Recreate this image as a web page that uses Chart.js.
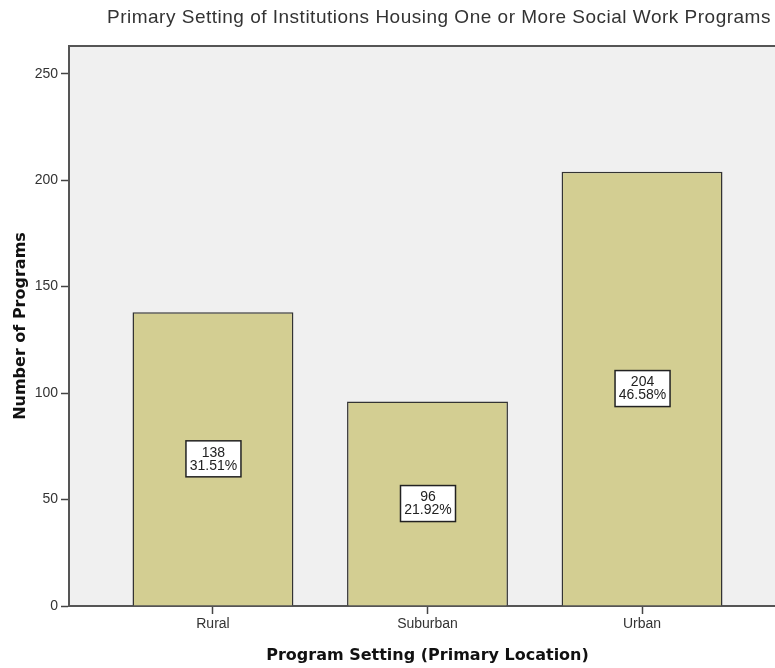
<!DOCTYPE html>
<html>
<head>
<meta charset="utf-8">
<script src="https://cdn.jsdelivr.net/npm/chart.js@4"></script>
<style>
  html, body { margin: 0; padding: 0; background: #fff; overflow: hidden; }
  #wrap { position: relative; width: 790px; height: 668px; }
  #title {
    position: absolute; top: 6px; left: 107px; white-space: nowrap;
    font: 19px "Liberation Sans", Arial, sans-serif; line-height: 22px; color: #333;
    letter-spacing: 0.5px;
  }
</style>
</head>
<body>
<div id="wrap">
  <div id="title">Primary Setting of Institutions Housing One or More Social Work Programs</div>
  <canvas id="myChart" width="790" height="668"></canvas>
</div>
<script>
// data
const categories = ['Rural', 'Suburban', 'Urban'];
const counts = [138, 96, 204];
const yTicks = [0, 50, 100, 150, 200, 250];

const total = counts.reduce((a, b) => a + b, 0);

// grey plot panel and top frame line
const panel = {
  id: 'panel',
  beforeDraw(chart) {
    const {ctx, chartArea: a} = chart;
    ctx.save();
    ctx.fillStyle = '#f0f0f0';
    ctx.fillRect(a.left, a.top, a.right - a.left, a.bottom - a.top);
    ctx.strokeStyle = '#555';
    ctx.lineWidth = 2;
    ctx.beginPath();
    ctx.moveTo(a.left, a.top);
    ctx.lineTo(a.right, a.top);
    ctx.stroke();
    ctx.restore();
  }
};

// white boxes with count and percent in the middle of each bar
const boxLabels = {
  id: 'boxLabels',
  afterDatasetsDraw(chart) {
    const {ctx} = chart;
    const meta = chart.getDatasetMeta(0);
    ctx.save();
    ctx.font = '14px "Liberation Sans", Arial, sans-serif';
    ctx.textAlign = 'center';
    ctx.textBaseline = 'middle';
    meta.data.forEach((bar, i) => {
      const cy = (bar.y + bar.base) / 2;
      const pct = (counts[i] / total * 100).toFixed(2) + '%';
      ctx.fillStyle = '#fff';
      ctx.fillRect(bar.x - 27, cy - 18, 55, 36);
      ctx.strokeStyle = '#222';
      ctx.lineWidth = 1.5;
      ctx.strokeRect(bar.x - 27, cy - 18, 55, 36);
      ctx.fillStyle = '#222';
      ctx.fillText(String(counts[i]), bar.x + 0.5, cy - 6);
      ctx.fillText(pct, bar.x + 0.5, cy + 7);
    });
    ctx.restore();
  }
};

new Chart(document.getElementById('myChart'), {
  type: 'bar',
  data: {
    datasets: [{
      data: counts.map((v, i) => ({x: i + 1, y: v})),
      backgroundColor: '#d3ce92',
      borderColor: '#333',
      borderWidth: 1.5,
      barPercentage: 0.75,
      categoryPercentage: 1
    }]
  },
  options: {
    responsive: false,
    animation: false,
    layout: {padding: {top: 46, right: 4, left: 0, bottom: 0}},
    plugins: {
      legend: {display: false},
      tooltip: {enabled: false}
    },
    scales: {
      x: {
        type: 'linear',
        offset: false,
        min: 0.329,
        max: 3.671,
        afterBuildTicks(scale) { scale.ticks = categories.map((c, i) => ({value: i + 1})); },
        afterFit(scale) { scale.height = 62; },
        grid: {offset: false, drawOnChartArea: false, drawTicks: true, tickLength: 8, tickColor: '#444', tickWidth: 1.5},
        border: {display: true, color: '#555', width: 2},
        ticks: {
          autoSkip: false,
          padding: 2,
          color: '#333',
          font: {family: '"Liberation Sans", Arial, sans-serif', size: 14},
          callback: (v) => categories[v - 1]
        },
        title: {
          display: true,
          text: 'Program Setting (Primary Location)',
          color: '#111',
          font: {family: '"DejaVu Sans", Verdana, sans-serif', size: 16, weight: 'bold'},
          padding: {top: 0, bottom: 3}
        }
      },
      y: {
        min: 0,
        max: 263,
        afterBuildTicks(scale) { scale.ticks = yTicks.map(v => ({value: v})); },
        afterFit(scale) { scale.width = 69; },
        grid: {drawOnChartArea: false, drawTicks: true, tickLength: 8, tickColor: '#444', tickWidth: 1.5},
        border: {display: true, color: '#555', width: 2},
        ticks: {
          padding: 3,
          color: '#333',
          font: {family: '"Liberation Sans", Arial, sans-serif', size: 14}
        },
        title: {
          display: true,
          text: 'Number of Programs',
          color: '#111',
          font: {family: '"DejaVu Sans", Verdana, sans-serif', size: 16, weight: 'bold'},
          padding: {top: 11, bottom: 0}
        }
      }
    }
  },
  plugins: [panel, boxLabels]
});
</script>
</body>
</html>
